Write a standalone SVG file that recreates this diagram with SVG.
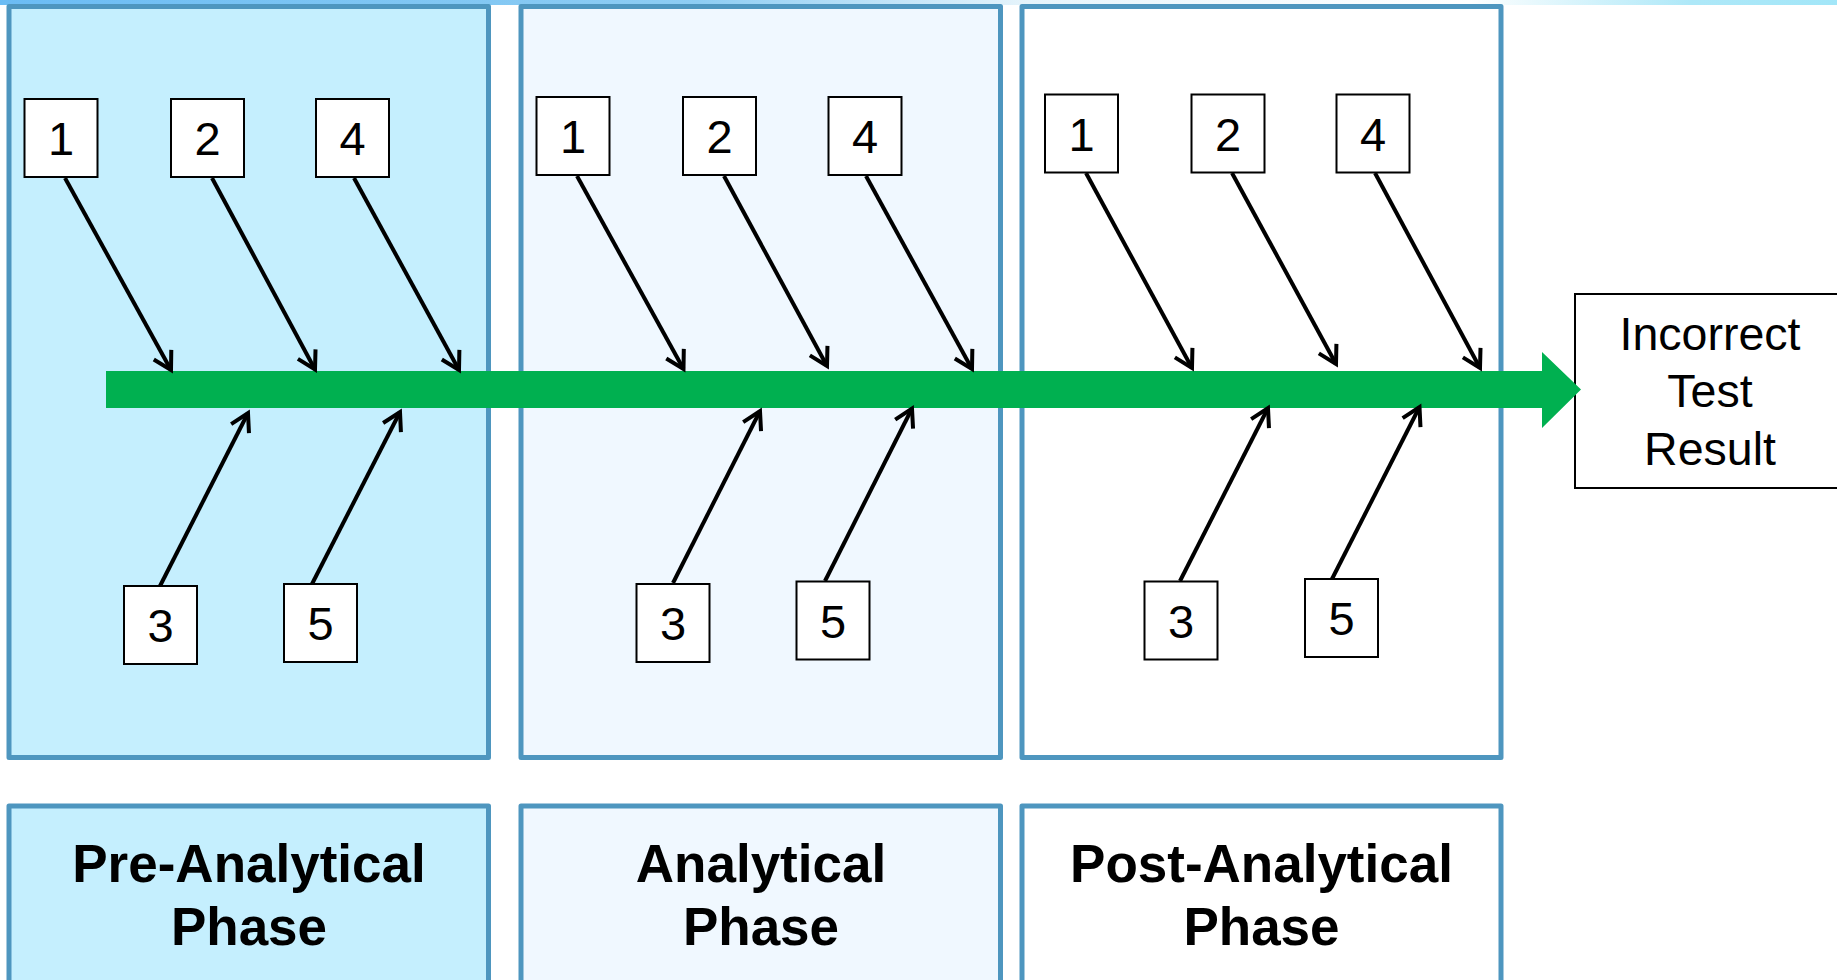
<svg xmlns="http://www.w3.org/2000/svg" width="1837" height="980" viewBox="0 0 1837 980">
  <defs>
    <linearGradient id="topBand" x1="0" y1="0" x2="1837" y2="0" gradientUnits="userSpaceOnUse">
      <stop offset="0" stop-color="#6BBCF4"/>
      <stop offset="0.38" stop-color="#8ECDF3"/>
      <stop offset="0.56" stop-color="#E6F4FB"/>
      <stop offset="0.80" stop-color="#FFFFFF"/>
      <stop offset="0.92" stop-color="#AEE8F8"/>
      <stop offset="1" stop-color="#A2E6F8"/>
    </linearGradient>
    <marker id="tip" markerUnits="userSpaceOnUse" viewBox="-24 -14 30 28" markerWidth="30" markerHeight="28" refX="0" refY="0" orient="auto" overflow="visible">
      <path d="M -17.5 -10 L 0 0 L -17.5 10" fill="none" stroke="#000" stroke-width="4"/>
    </marker>
    <style>
      .phase { stroke: #4E96BF; stroke-width: 5; stroke-linejoin: round; }
      .pre { fill: #C5EFFE; }
      .ana { fill: #F0F8FF; }
      .post { fill: #FFFFFF; }
      .num rect { fill: #FFFFFF; stroke: #000; stroke-width: 2; }
      .num text { font-family: "Liberation Sans", Arial, sans-serif; font-size: 47px; fill: #000; text-anchor: middle; }
      .cause { fill: none; stroke: #000; stroke-width: 4; marker-end: url(#tip); }
      .title { font-family: "Liberation Sans", Arial, sans-serif; font-weight: bold; font-size: 53px; fill: #000; text-anchor: middle; }
      .effect { font-family: "Liberation Sans", Arial, sans-serif; font-size: 46.5px; fill: #000; text-anchor: middle; }
    </style>
  </defs>

  <rect width="1837" height="980" fill="#FFFFFF"/>
  <!-- header band -->
  <rect x="0" y="0" width="1837" height="5" fill="url(#topBand)"/>

  <!-- phase panels -->
  <g id="panels">
    <rect id="panel-pre" class="phase pre" x="9" y="6.5" width="479.5" height="751"/>
    <rect id="panel-ana" class="phase ana" x="521" y="6.5" width="479.5" height="751"/>
    <rect id="panel-post" class="phase post" x="1022" y="6.5" width="479" height="751"/>
  </g>

  <!-- phase titles -->
  <g id="title-pre">
    <rect class="phase pre" x="9" y="806" width="479.5" height="200"/>
    <text class="title" x="249" y="881.5">Pre-Analytical</text>
    <text class="title" x="249" y="945">Phase</text>
  </g>
  <g id="title-ana">
    <rect class="phase ana" x="521" y="806" width="479.5" height="200"/>
    <text class="title" x="761" y="881.5">Analytical</text>
    <text class="title" x="761" y="945">Phase</text>
  </g>
  <g id="title-post">
    <rect class="phase post" x="1022" y="806" width="479" height="200"/>
    <text class="title" x="1261.5" y="881.5">Post-Analytical</text>
    <text class="title" x="1261.5" y="945">Phase</text>
  </g>

  <!-- effect box -->
  <g id="effect">
    <rect x="1575" y="294" width="280" height="194" fill="#FFFFFF" stroke="#000" stroke-width="2"/>
    <text class="effect" x="1710" y="350">Incorrect</text>
    <text class="effect" x="1710" y="407">Test</text>
    <text class="effect" x="1710" y="465">Result</text>
  </g>

  <!-- cause boxes: pre-analytical -->
  <g id="pre-1" class="num"><rect x="24.5" y="99" width="73" height="78"/><text x="61" y="155">1</text></g>
  <g id="pre-2" class="num"><rect x="171" y="99" width="73" height="78"/><text x="207.5" y="155">2</text></g>
  <g id="pre-4" class="num"><rect x="316" y="99" width="73" height="78"/><text x="352.5" y="155">4</text></g>
  <g id="pre-3" class="num"><rect x="124" y="586" width="73" height="78"/><text x="160.5" y="642">3</text></g>
  <g id="pre-5" class="num"><rect x="284" y="584" width="73" height="78"/><text x="320.5" y="640">5</text></g>

  <!-- cause boxes: analytical -->
  <g id="ana-1" class="num"><rect x="536.5" y="97" width="73" height="78"/><text x="573" y="153">1</text></g>
  <g id="ana-2" class="num"><rect x="683" y="97" width="73" height="78"/><text x="719.5" y="153">2</text></g>
  <g id="ana-4" class="num"><rect x="828.5" y="97" width="73" height="78"/><text x="865" y="153">4</text></g>
  <g id="ana-3" class="num"><rect x="636.5" y="584" width="73" height="78"/><text x="673" y="640">3</text></g>
  <g id="ana-5" class="num"><rect x="796.5" y="581.5" width="73" height="78"/><text x="833" y="637.5">5</text></g>

  <!-- cause boxes: post-analytical -->
  <g id="post-1" class="num"><rect x="1045" y="94.5" width="73" height="78"/><text x="1081.5" y="150.5">1</text></g>
  <g id="post-2" class="num"><rect x="1191.5" y="94.5" width="73" height="78"/><text x="1228" y="150.5">2</text></g>
  <g id="post-4" class="num"><rect x="1336.5" y="94.5" width="73" height="78"/><text x="1373" y="150.5">4</text></g>
  <g id="post-3" class="num"><rect x="1144.5" y="581.5" width="73" height="78"/><text x="1181" y="637.5">3</text></g>
  <g id="post-5" class="num"><rect x="1305" y="579" width="73" height="78"/><text x="1341.5" y="635">5</text></g>

  <!-- spine and cause arrows -->
  <g id="connectors">
    <path id="spine" d="M 106 371 H 1542 V 352 L 1581 389.5 L 1542 428 V 408 H 106 Z" fill="#00B050"/>

    <line class="cause" x1="65" y1="178" x2="171" y2="370"/>
    <line class="cause" x1="212" y1="178" x2="315" y2="369.5"/>
    <line class="cause" x1="354" y1="178" x2="459" y2="370"/>
    <line class="cause" x1="160" y1="586" x2="248" y2="413"/>
    <line class="cause" x1="312" y1="584" x2="400" y2="412"/>

    <line class="cause" x1="577" y1="176" x2="683.5" y2="369"/>
    <line class="cause" x1="724" y1="176" x2="827" y2="366"/>
    <line class="cause" x1="866" y1="176" x2="972" y2="369"/>
    <line class="cause" x1="673" y1="583" x2="760" y2="411"/>
    <line class="cause" x1="825" y1="581" x2="912" y2="408.5"/>

    <line class="cause" x1="1086" y1="173" x2="1192" y2="368"/>
    <line class="cause" x1="1232" y1="173" x2="1336" y2="364"/>
    <line class="cause" x1="1375" y1="173" x2="1480" y2="368"/>
    <line class="cause" x1="1180" y1="581" x2="1268" y2="408"/>
    <line class="cause" x1="1332" y1="579" x2="1419.5" y2="407"/>
  </g>
</svg>
